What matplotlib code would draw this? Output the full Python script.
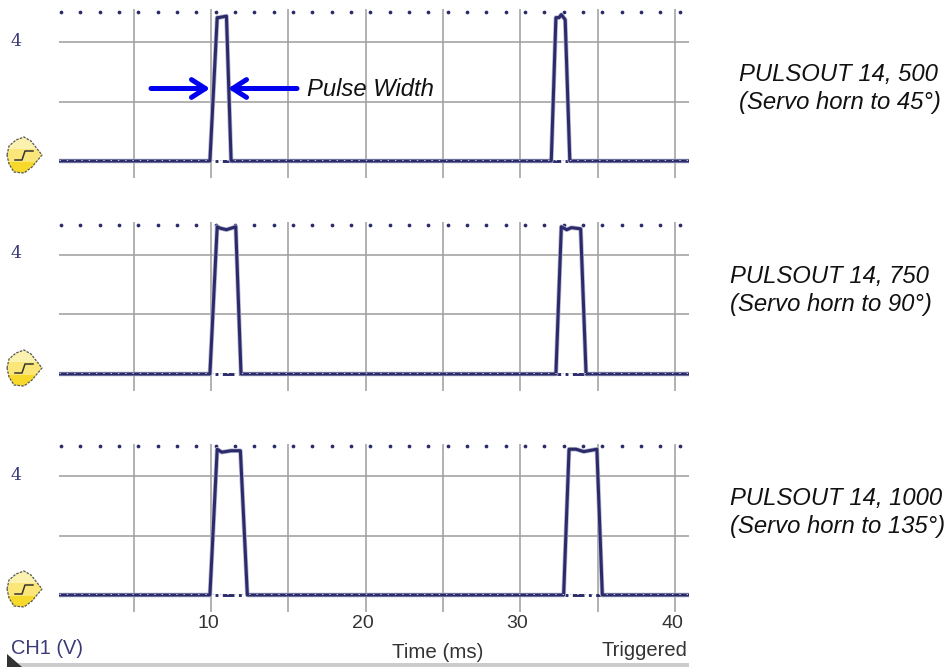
import matplotlib as mpl
mpl.use('agg')
import matplotlib.pyplot as plt
import numpy as np
from matplotlib.patches import Polygon

W, H = 949, 667
navy = '#2b2b6b'
grid_col = '#a0a0a0'

# traces: time (ms), volts
t1 = [0.17, 9.93, 10.4, 10.5, 11.0, 11.3, 32.0, 32.3, 32.5, 32.65, 32.9, 33.2, 40.9]
v1 = [0, 0, 4.82, 4.82, 4.87, 0, 0, 4.82, 4.82, 4.92, 4.75, 0, 0]
t2 = [0.17, 9.93, 10.4, 10.6, 11.0, 11.6, 11.94, 32.3, 32.65, 33.0, 33.3, 33.9, 34.25, 40.9]
v2 = [0, 0, 4.95, 4.9, 4.85, 4.95, 0, 0, 4.95, 4.85, 4.92, 4.88, 0, 0]
t3 = [0.17, 9.93, 10.4, 10.7, 11.3, 11.9, 12.35, 32.8, 33.15, 33.6, 34.1, 34.95, 35.3, 40.9]
v3 = [0, 0, 4.9, 4.8, 4.85, 4.85, 0, 0, 4.9, 4.9, 4.82, 4.9, 0, 0]

traces = [(t1, v1), (t2, v2), (t3, v3)]
panel_tops = [9, 222, 444]
panel_bottoms = [178, 391, 612]
captions = [('PULSOUT 14, 500', '(Servo horn to 45°)', 739, 74),
            ('PULSOUT 14, 750', '(Servo horn to 90°)', 730, 276),
            ('PULSOUT 14, 1000', '(Servo horn to 135°)', 730, 498)]

x_grid = [5, 10, 15, 20, 25, 30, 35, 40]
y_grid = [2, 4]
top_dots = [0.3, 1.55, 2.8, 4.05, 5.3, 6.55, 7.8, 9.05, 10.3, 11.55, 12.8, 14.05, 15.3, 16.55,
            17.8, 19.05, 20.3, 21.55, 22.8, 24.05, 25.3, 26.55, 27.8, 29.05, 30.3, 31.55, 32.8,
            34.05, 35.3, 36.55, 37.8, 39.05, 40.3]
x_labels = [10, 20, 30, 40]

plt.rcParams['font.family'] = ['Liberation Sans', 'DejaVu Sans']
fig = plt.figure(figsize=(W / 100, H / 100), dpi=100)

# overlay in pixel coords for the annotations
over = fig.add_axes([0, 0, 1, 1], zorder=5)
over.set_xlim(0, W)
over.set_ylim(H, 0)
over.axis('off')
over.patch.set_alpha(0)

# x scale: 10 ms at px 211, 40 ms at px 675
px_per_ms = (675 - 211) / 30
x0 = 59
x1 = 689
xlim = ((x0 - 211) / px_per_ms + 10, (x1 - 211) / px_per_ms + 10)

def addIcon(cx, cy):
    pts = [(-17, 0), (-15, -9), (-8, -15), (0, -18), (7, -14), (18, 0), (8, 12), (0, 18), (-10, 17), (-15, 9)]
    poly = Polygon([(cx + a, cy + b) for a, b in pts], closed=True, fc='none', ec='#555555', lw=0.9, ls=(0, (2, 1)), zorder=3)
    over.add_patch(poly)
    grad = np.array([[0.0], [0.5], [1.0]])
    cmap = mpl.colors.LinearSegmentedColormap.from_list('icon', ['#fbf2b0', '#fbe77a', '#f6d92b'])
    im = over.imshow(grad, extent=(cx - 18, cx + 18, cy + 19, cy - 18), cmap=cmap, aspect='auto', zorder=2)
    im.set_clip_path(poly)
    over.plot([cx - 9, cx - 2, cx + 1, cx + 9], [cy + 5, cy + 5, cy - 4, cy - 4], color='#333333', lw=1.1, zorder=4)

for i, (t, v) in enumerate(traces):
    top = panel_tops[i]
    bottom = panel_bottoms[i]
    ax = fig.add_axes([x0 / W, 1 - bottom / H, (x1 - x0) / W, (bottom - top) / H])
    # 0 V sits 17 px above the bottom, 119 px per 4 V
    ax.set_xlim(xlim)
    ax.set_ylim(-17 * 4 / 119, (bottom - 17 - top) * 4 / 119)
    ax.axis('off')
    ax.vlines(x_grid, *ax.get_ylim(), color=grid_col, lw=1.15, zorder=1)
    ax.hlines(y_grid, *xlim, color=grid_col, lw=1.15, zorder=1)
    ax.plot(top_dots, [5] * len(top_dots), ls='none', marker='o', ms=2.7, mew=0, color=navy, zorder=2)
    ax.plot(xlim, [0, 0], color=navy, lw=2.1, ls=(0, (4, 1.5, 1, 1.5)), zorder=2)
    ax.plot(t, v, color='#b8b8d0', lw=3.3, solid_joinstyle='round', zorder=3)
    ax.plot(t, v, color=navy, lw=2.2, solid_joinstyle='round', zorder=4)
    ax.plot(xlim, [0.03, 0.03], color='#c8c8dc', lw=0.7, ls=(0, (1.5, 6)), zorder=5)

    y4 = bottom - 17 - 119
    over.text(16, y4 - 1, '4', color='#3a3a7a', fontsize=12.5, family='DejaVu Serif', ha='center', va='center')
    addIcon(24, bottom - 23)

    l1, l2, cx, cy = captions[i]
    over.text(cx, cy, l1, fontsize=17.2, style='italic', color='#111111', va='center')
    over.text(cx, cy + 29, l2, fontsize=17.2, style='italic', color='#111111', va='center')

# zero label poking out under the last icon
over.text(15, 603, '0', color='#3a3a7a', fontsize=9, ha='center', va='center', zorder=1)

# pulse width arrows
arrow = dict(arrowstyle='->,head_length=0.5,head_width=0.32', color='#0000f0', lw=3.6,
             mutation_scale=20, shrinkA=0, shrinkB=0)
over.annotate('', xy=(210, 88.5), xytext=(151, 88.5), arrowprops=arrow, zorder=6)
over.annotate('', xy=(228, 88.5), xytext=(297, 88.5), arrowprops=arrow, zorder=6)
over.text(307, 89, 'Pulse Width', fontsize=17.2, style='italic', color='#111111', va='center')

# bottom strip
for val in x_labels:
    over.text(211 + (val - 10) * px_per_ms - 3, 624, str(val), fontsize=14, color='#333333', ha='center', va='center')
over.text(11, 649, 'CH1 (V)', fontsize=14.4, color='#3a3a7a', va='center')
over.text(392, 652, 'Time (ms)', fontsize=14.8, color='#333333', va='center')
over.text(602, 651, 'Triggered', fontsize=14.5, color='#333333', va='center')
over.fill_between([7, 689], 663, 667, color='#cccccc', lw=0, zorder=1)
over.add_patch(Polygon([(7, 654), (22, 667), (7, 667)], closed=True, fc='#333333', ec='none', zorder=2))
over.set_xlim(0, W)
over.set_ylim(H, 0)

plt.savefig('out.png', format='PNG', dpi=100)
